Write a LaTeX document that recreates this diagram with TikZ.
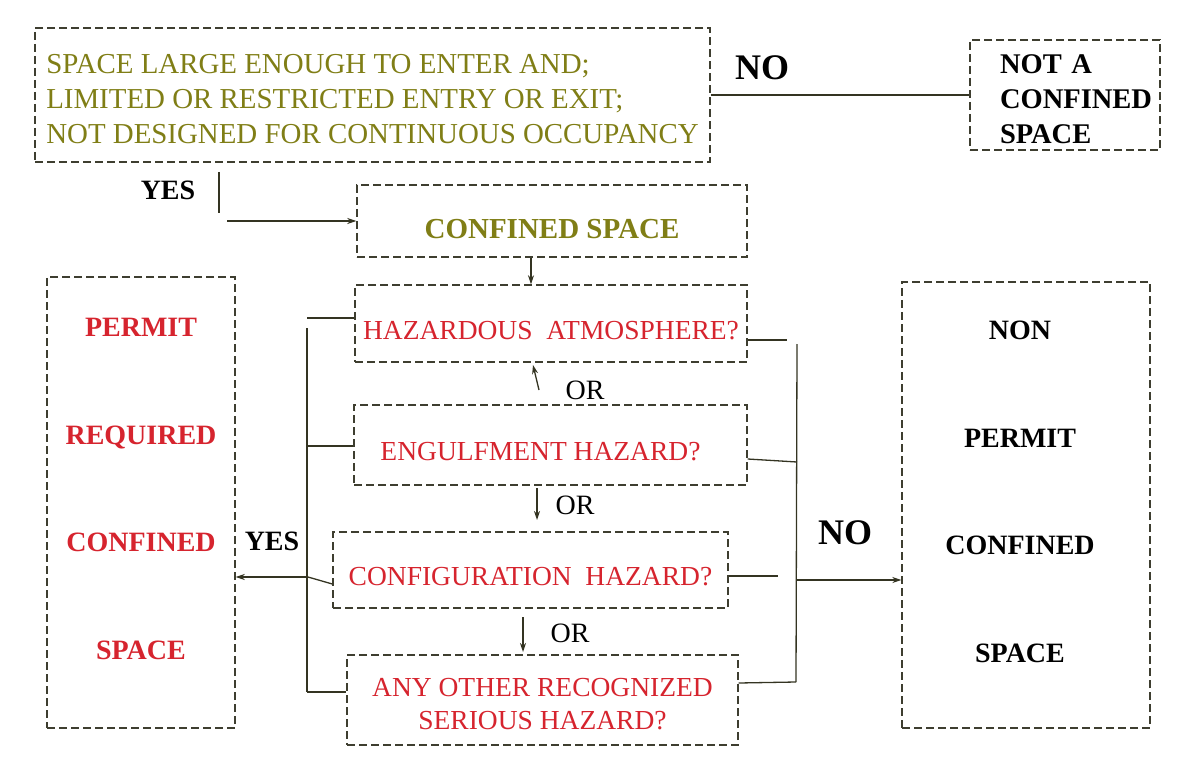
\documentclass[tikz,border=0pt]{standalone}
\usepackage{fontspec}
\setmainfont{Liberation Serif}
\usetikzlibrary{arrows.meta}

\definecolor{olivetext}{RGB}{128,126,22}
\definecolor{redtext}{RGB}{214,36,46}
\definecolor{boxline}{RGB}{62,62,48}
\definecolor{wirecol}{RGB}{52,52,34}

\newcommand\fsz[2]{\fontsize{#1pt}{#2pt}\selectfont}
% strut that pushes a box's first line down
\newcommand\lowerby[1]{\rule{0pt}{#1}}

\tikzset{
  box/.style={draw=boxline, line width=1.4pt, dash pattern=on 8pt off 4pt,
    rectangle, inner sep=0pt, align=center},
  wire/.style={draw=wirecol, line width=1.3pt},
  arrow/.style={wire, -{Stealth[length=9pt,width=6pt]}},
  hazard/.style={box, text=redtext, font=\fsz{27.5}{33}},
  blacklabel/.style={font=\bfseries\fsz{28}{34}, text=black, inner sep=0pt},
  orlabel/.style={font=\fsz{28}{34}, text=black, inner sep=0pt},
  stack/.style={font=\bfseries\fsz{28}{107.5}, align=center, inner sep=0pt}
}

\begin{document}
\begin{tikzpicture}[x=1pt,y=-1pt]
\useasboundingbox (0,0) rectangle (1182,759);

% first test
\node[box, minimum width=675pt, minimum height=134pt,
      align=left, text=olivetext, font=\fsz{28.9}{35}] (entry) at (372.5,95)
  {\lowerby{28pt}SPACE LARGE ENOUGH TO ENTER AND;\\
   LIMITED OR RESTRICTED ENTRY OR EXIT;\\
   NOT DESIGNED FOR CONTINUOUS OCCUPANCY};
\node[font=\bfseries\fsz{36}{40}, inner sep=0pt] (no1) at (762,68) {NO};
\node[box, minimum width=190pt, minimum height=110pt, text width=130pt,
      align=left, font=\bfseries\fsz{28.5}{35}] (nacs) at (1065,95)
  {\lowerby{27pt}NOT A\\CONFINED\\SPACE};

% confined space and the four hazard questions
\node[box, minimum width=390pt, minimum height=72pt, text=olivetext,
      font=\bfseries\fsz{29}{34}] (cs) at (552,221) {\lowerby{35pt}CONFINED SPACE};
\node[hazard, minimum width=392pt, minimum height=77pt] (ha) at (551,323.5)
  {\lowerby{32pt}HAZARDOUS\ \ ATMOSPHERE?};
\node[hazard, minimum width=393pt, minimum height=80pt] (eh) at (550.5,445)
  {\lowerby{32pt}ENGULFMENT HAZARD?\hspace*{20pt}};
\node[hazard, minimum width=395pt, minimum height=76pt] (ch) at (530.5,570)
  {\lowerby{32pt}CONFIGURATION\ \ HAZARD?};
\node[hazard, minimum width=391pt, minimum height=90pt] (ao) at (542.5,700)
  {\lowerby{26pt}ANY OTHER RECOGNIZED\\SERIOUS HAZARD?};

% outcomes
\node[box, minimum width=188pt, minimum height=451pt] (prc) at (141,502.5) {};
\node[stack, text=redtext] (prctxt) at (141,489)
  {PERMIT\\REQUIRED\\CONFINED\\SPACE};
\node[box, minimum width=248pt, minimum height=446pt] (npcs) at (1026,505) {};
\node[stack, text=black] (npcstxt) at (1020,492)
  {NON\\PERMIT\\CONFINED\\SPACE};

% labels
\node[blacklabel] (yes1) at (168,190) {YES};
\node[blacklabel] (yes2) at (272,541) {YES};
\node[font=\bfseries\fsz{36}{40}, inner sep=0pt] (no2) at (845,533) {NO};
\node[orlabel] (or1) at (585,390) {OR};
\node[orlabel] (or2) at (575,505) {OR};
\node[orlabel] (or3) at (570,633) {OR};

% first test: NO branch
\draw[wire] (entry.east |- nacs.west) -- (nacs.west);

% first test: YES branch
\coordinate (yesdrop) at (219,172);
\coordinate (yesfoot) at (219,213);
\coordinate (yesstart) at (227,221);
\draw[wire] (yesdrop) -- (yesfoot);
\draw[arrow] (yesstart) -- (cs.west);

% down the chain of questions
\coordinate (csx) at (531,0);
\draw[arrow] (cs.south -| csx) -- (ha.north -| csx);
\coordinate (or1tail) at (539,390);
\coordinate (or1tip) at (533,365);
\draw[arrow] (or1tail) -- (or1tip);
\coordinate (or2tail) at (537,488);
\coordinate (or2tip) at (537,520);
\draw[arrow] (or2tail) -- (or2tip);
\coordinate (or3tail) at (523,617);
\coordinate (or3tip) at (523,652);
\draw[arrow] (or3tail) -- (or3tip);

% YES collector on the left
\coordinate (lbA) at (307,318);
\coordinate (lbTop) at (307,328);
\coordinate (lbE) at (308,446);
\coordinate (lbC) at (308,577);
\coordinate (lbO) at (307,692);
\draw[wire] (lbA) -- (lbA -| ha.west);
\draw[wire] (lbTop) -- (lbO);
\draw[wire] (lbE) -- (lbE -| eh.west);
\draw[wire] (lbC) -- ([yshift=-14pt]ch.west);
\draw[wire] (lbO) -- (lbO -| ao.west);
\draw[arrow] (lbC) -- (lbC -| prc.east);

% NO collector on the right
\coordinate (rbA) at (787,340);
\coordinate (rbTop) at (797,344);
\coordinate (rbBot) at (796,682);
\coordinate (rbE) at (797,462);
\coordinate (rbC) at (778,576);
\coordinate (rbO) at (796,682);
\coordinate (rbNo) at (796,580);
\draw[wire] (rbA -| ha.east) -- (rbA);
\draw[wire] (rbTop) -- (rbBot);
\draw[wire] ([yshift=-14pt]eh.east) -- (rbE);
\draw[wire] (rbC -| ch.east) -- (rbC);
\draw[wire] ([yshift=17pt]ao.east) -- (rbO);
\draw[arrow] (rbNo) -- (rbNo -| npcs.west);
\end{tikzpicture}
\end{document}
